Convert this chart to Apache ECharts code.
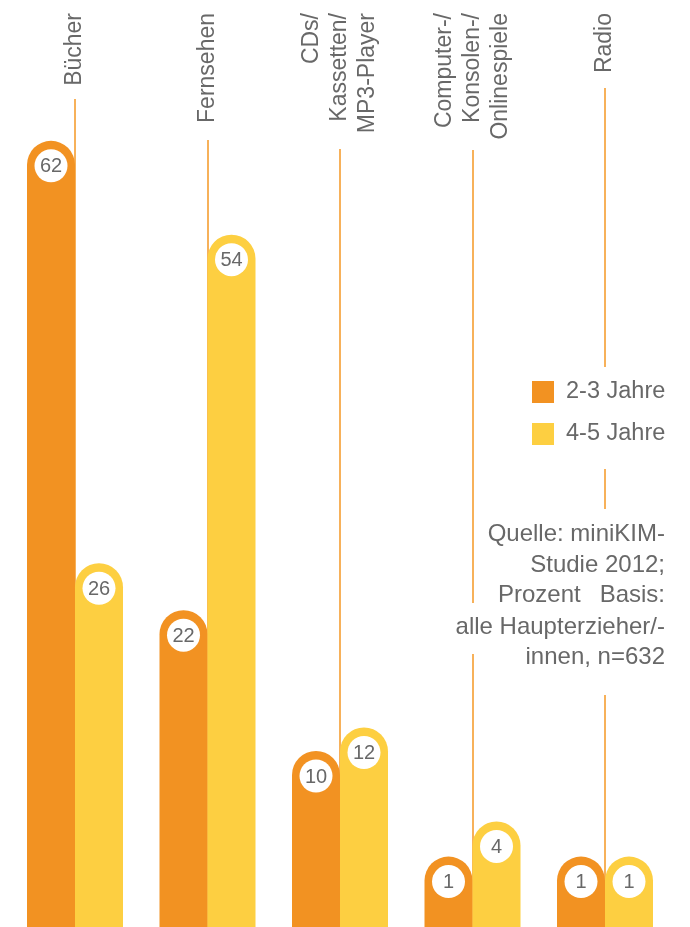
<!DOCTYPE html>
<html>
<head>
<meta charset="utf-8">
<script src="https://cdn.jsdelivr.net/npm/echarts@6/dist/echarts.min.js"></script>
<style>
html,body{margin:0;padding:0;background:#fff;}
#chart{width:690px;height:927px;}
</style>
</head>
<body>
<div id="chart"></div>
<script>
const categories = ['Bücher', 'Fernsehen', 'CDs/\nKassetten/\nMP3-Player', 'Computer-/\nKonsolen-/\nOnlinespiele', 'Radio'];
const seriesNames = ['2-3 Jahre', '4-5 Jahre'];
const age23 = [62, 22, 10, 1, 1];
const age45 = [26, 54, 12, 4, 1];
const sourceLines = ['Quelle: miniKIM-', 'Studie 2012;', ['Prozent', 'Basis:'], 'alle Haupterzieher/-', 'innen, n=632'];

const ORANGE = '#F29222';
const YELLOW = '#FDCF41';
const LINE = '#F7B15A';
const TEXT = '#686868';
const FONT = '"Liberation Sans", Helvetica, Arial, sans-serif';
const Y_MIN = -5, Y_MAX = 74;
const BAR_W = 48;

function makeRender(side, color) {
  return function (params, api) {
    const i = api.value(0);
    const v = api.value(1);
    const top = api.coord([i, v]);
    const base = api.coord([i, Y_MIN]);
    const x0 = side < 0 ? top[0] - BAR_W : top[0];
    const cx = x0 + BAR_W / 2;
    return {
      type: 'group',
      children: [
        {
          type: 'rect',
          shape: { x: x0, y: top[1], width: BAR_W, height: base[1] - top[1], r: [24, 24, 0, 0] },
          style: { fill: color }
        },
        {
          type: 'circle',
          shape: { cx: cx, cy: top[1] + 25, r: 16.5 },
          style: { fill: '#fff' }
        },
        {
          type: 'text',
          style: {
            x: cx, y: top[1] + 26, text: String(v),
            align: 'center', verticalAlign: 'middle',
            fill: TEXT, font: '20px ' + FONT
          }
        }
      ]
    };
  };
}

const chart = echarts.init(document.getElementById('chart'), null, { renderer: 'canvas' });
chart.setOption({
  animation: false,
  backgroundColor: '#fff',
  grid: { left: 8.75, right: 18.75, top: 0, bottom: 0 },
  xAxis: {
    type: 'category',
    data: categories,
    position: 'top',
    axisLine: { show: false },
    axisTick: { show: false },
    splitLine: { show: false },
    axisLabel: {
      inside: true, rotate: 90, margin: 13, interval: 0,
      fontSize: 23, lineHeight: 28, color: TEXT, fontFamily: FONT
    }
  },
  yAxis: { type: 'value', min: Y_MIN, max: Y_MAX, show: false },
  legend: {
    orient: 'vertical', left: 532, top: 380,
    itemWidth: 22, itemHeight: 22, itemGap: 18, padding: 0,
    icon: 'rect',
    data: seriesNames,
    textStyle: { fontSize: 23.5, lineHeight: 22, color: TEXT, fontFamily: FONT, padding: [0, 0, 0, 7] }
  },
  series: [
    {
      name: seriesNames[0], type: 'custom', z: 3,
      itemStyle: { color: ORANGE },
      renderItem: makeRender(-1, ORANGE),
      data: age23.map((v, i) => [i, v])
    },
    {
      name: seriesNames[1], type: 'custom', z: 3,
      itemStyle: { color: YELLOW },
      renderItem: makeRender(1, YELLOW),
      data: age45.map((v, i) => [i, v])
    }
  ]
});

// decorative guide lines (behind bars) and source note
const lineSegments = [
  [[99, 927]],
  [[140, 927]],
  [[149, 927]],
  [[150, 603], [654, 927]],
  [[88, 367], [469, 509], [695, 927]]
];
const elements = [];
lineSegments.forEach((segs, i) => {
  const x = Math.round(chart.convertToPixel({ xAxisIndex: 0 }, i));
  segs.forEach(s => {
    elements.push({
      type: 'line', z: 0, silent: true,
      shape: { x1: x, y1: s[0], x2: x, y2: s[1] },
      style: { stroke: LINE, lineWidth: 2 }
    });
  });
});
const srcRight = 665, srcCenters = [534, 565, 595, 627, 657];
const srcFont = '24px ' + FONT;
sourceLines.forEach((ln, k) => {
  if (Array.isArray(ln)) {
    elements.push({ type: 'text', z: 5, style: { x: srcRight - 167, y: srcCenters[k], text: ln[0], align: 'left', verticalAlign: 'middle', fill: TEXT, font: srcFont } });
    elements.push({ type: 'text', z: 5, style: { x: srcRight, y: srcCenters[k], text: ln[1], align: 'right', verticalAlign: 'middle', fill: TEXT, font: srcFont } });
  } else {
    elements.push({ type: 'text', z: 5, style: { x: srcRight, y: srcCenters[k], text: ln, align: 'right', verticalAlign: 'middle', fill: TEXT, font: srcFont } });
  }
});
chart.setOption({ graphic: { elements: elements } });
</script>
</body>
</html>
